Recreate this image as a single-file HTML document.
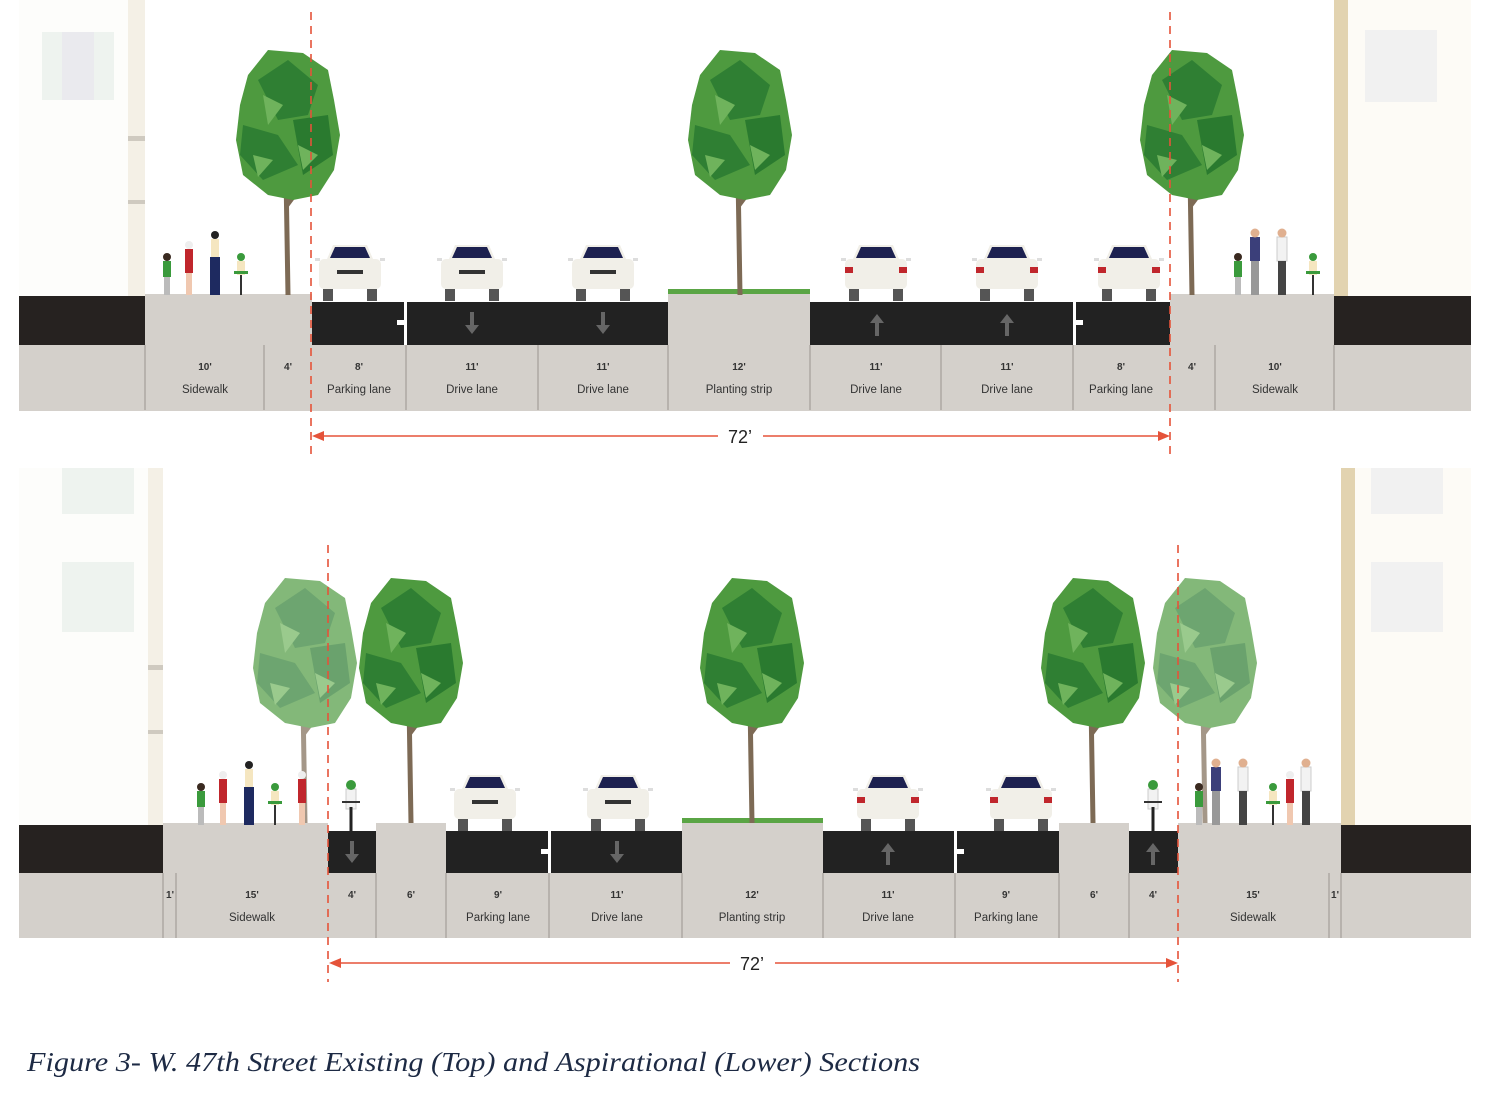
<!DOCTYPE html>
<html><head><meta charset="utf-8"><style>
html,body{margin:0;padding:0;background:#fff;}
svg{display:block}
.d{font:bold 10px "Liberation Sans",sans-serif;fill:#333;text-anchor:middle}
.n{font:11.5px "Liberation Sans",sans-serif;fill:#333;text-anchor:middle}
.dim{font:18px "Liberation Sans",sans-serif;fill:#222;text-anchor:middle}
.cap{font:italic 27px "Liberation Serif",serif;fill:#1d2a44}
</style></head><body>
<svg width="1485" height="1096" viewBox="0 0 1485 1096" xmlns="http://www.w3.org/2000/svg">
<defs>
<g id="tree">
  <path d="M0 0 L-2 -120 L-30 -150 M-1 -90 L25 -125 M-2 -120 L-4 -180" stroke="#7d6a55" stroke-width="5" fill="none"/>
  <polygon points="-40,-220 -20,-245 15,-242 40,-225 46,-195 52,-160 46,-125 30,-100 5,-95 -20,-100 -45,-120 -52,-155 -48,-190" fill="#4e9a3f"/>
  <polygon points="-30,-215 0,-235 30,-210 20,-180 -10,-175" fill="#2f7f33"/>
  <polygon points="-45,-170 -10,-160 10,-130 -25,-115 -48,-140" fill="#2f7f33"/>
  <polygon points="5,-175 40,-180 45,-140 15,-120" fill="#2a7a2f"/>
  <polygon points="-25,-200 -5,-190 -20,-170" fill="#6fb35c"/>
  <polygon points="10,-150 30,-140 15,-125" fill="#6fb35c"/>
  <polygon points="-35,-140 -15,-135 -30,-118" fill="#6fb35c"/>
</g>
<g id="carF">
  <rect x="4" y="16" width="62" height="30" rx="5" fill="#f1efe8"/>
  <polygon points="12,16 18,2 52,2 58,16" fill="#f1efe8"/>
  <polygon points="15,15 20,4 50,4 55,15" fill="#1d2150"/>
  <rect x="0" y="15" width="5" height="3" fill="#ddd"/><rect x="65" y="15" width="5" height="3" fill="#ddd"/>
  <rect x="22" y="27" width="26" height="4" fill="#333"/>
  <rect x="8" y="46" width="10" height="12" fill="#555"/><rect x="52" y="46" width="10" height="12" fill="#555"/>
</g>
<g id="carR">
  <rect x="4" y="16" width="62" height="30" rx="5" fill="#f1efe8"/>
  <polygon points="12,16 18,2 52,2 58,16" fill="#f1efe8"/>
  <polygon points="15,15 20,4 50,4 55,15" fill="#1d2150"/>
  <rect x="0" y="15" width="5" height="3" fill="#ddd"/><rect x="65" y="15" width="5" height="3" fill="#ddd"/>
  <rect x="4" y="24" width="8" height="6" fill="#c0262c"/><rect x="58" y="24" width="8" height="6" fill="#c0262c"/>
  <rect x="8" y="46" width="10" height="12" fill="#555"/><rect x="52" y="46" width="10" height="12" fill="#555"/>
</g>
<g id="arU"><rect x="-2" y="-4" width="4" height="14" fill="#666"/><polygon points="-7,-3 7,-3 0,-12" fill="#666"/></g>
<g id="arD"><rect x="-2" y="-10" width="4" height="14" fill="#666"/><polygon points="-7,3 7,3 0,12" fill="#666"/></g>
<g id="pr"><rect x="-4" y="-46" width="8" height="24" fill="#c0262c"/><circle cx="0" cy="-50" r="4" fill="#eee"/><rect x="-3" y="-22" width="6" height="22" fill="#f0c8b0"/></g>
<g id="pb"><rect x="-4" y="-56" width="8" height="18" fill="#f5e6c0"/><rect x="-5" y="-38" width="10" height="38" fill="#1e2a60"/><circle cx="0" cy="-60" r="4" fill="#222"/></g>
<g id="pg"><rect x="-4" y="-34" width="8" height="16" fill="#3a9a3c"/><circle cx="0" cy="-38" r="4" fill="#3a2a20"/><rect x="-3" y="-18" width="6" height="18" fill="#bbb"/></g>
<g id="pm"><rect x="-5" y="-58" width="10" height="24" fill="#3b3f7a"/><circle cx="0" cy="-62" r="4.5" fill="#e0b090"/><rect x="-4" y="-34" width="8" height="34" fill="#999"/></g>
<g id="pw"><rect x="-5" y="-58" width="10" height="24" fill="#f2f2f2" stroke="#ccc"/><circle cx="0" cy="-62" r="4.5" fill="#e0b090"/><rect x="-4" y="-34" width="8" height="34" fill="#444"/></g>
<g id="pk"><rect x="-4" y="-34" width="8" height="14" fill="#f5e6c0"/><circle cx="0" cy="-38" r="4" fill="#3a9a3c"/><rect x="-1" y="-20" width="2" height="20" fill="#333"/><rect x="-7" y="-24" width="14" height="3" fill="#3a9a3c"/></g>
<g id="bk"><rect x="-5" y="-42" width="10" height="20" fill="#f2f2f2" stroke="#ccc"/><circle cx="0" cy="-46" r="5" fill="#3a9a3c"/><rect x="-1.5" y="-24" width="3" height="24" fill="#222"/><rect x="-9" y="-30" width="18" height="2" fill="#333"/></g>
</defs>

<rect x="19" y="0" width="126" height="296" fill="#fdfdfb"/>
<rect x="128" y="0" width="17" height="296" fill="#f4f0e6"/>
<rect x="128" y="136" width="17" height="5" fill="#cfcac0"/><rect x="128" y="200" width="17" height="4" fill="#cfcac0"/>
<rect x="42" y="32" width="72" height="68" fill="#eef3ef"/><rect x="62" y="32" width="32" height="68" fill="#eaeaee"/>
<rect x="1334" y="0" width="137" height="296" fill="#fdfbf6"/>
<rect x="1334" y="0" width="14" height="296" fill="#e2d3b0"/>
<rect x="1365" y="30" width="72" height="72" fill="#f1f1f1"/>
<rect x="19" y="345" width="1452" height="66" fill="#d4d0cb"/>
<rect x="19" y="296" width="126" height="49" fill="#262220"/>
<rect x="1334" y="296" width="137" height="49" fill="#262220"/>
<rect x="145" y="294" width="167" height="51" fill="#d4d0cb"/>
<rect x="1170" y="294" width="164" height="51" fill="#d4d0cb"/>
<rect x="668" y="293" width="142" height="52" fill="#d4d0cb"/>
<rect x="668" y="289" width="142" height="5" fill="#5aa545"/>
<rect x="312" y="302" width="356" height="43" fill="#222"/>
<rect x="810" y="302" width="360" height="43" fill="#222"/>
<rect x="404" y="302" width="3" height="43" fill="#fff"/><rect x="397" y="320" width="8" height="5" fill="#fff"/>
<rect x="1073" y="302" width="3" height="43" fill="#fff"/><rect x="1075" y="320" width="8" height="5" fill="#fff"/>
<use href="#arD" x="472" y="322"/><use href="#arD" x="603" y="322"/>
<use href="#arU" x="877" y="326"/><use href="#arU" x="1007" y="326"/>
<g stroke="#9a958f" stroke-width="1">
<line x1="145" y1="345" x2="145" y2="410"/><line x1="264" y1="345" x2="264" y2="410"/><line x1="406" y1="345" x2="406" y2="410"/>
<line x1="538" y1="345" x2="538" y2="410"/><line x1="668" y1="345" x2="668" y2="410"/><line x1="810" y1="345" x2="810" y2="410"/>
<line x1="941" y1="345" x2="941" y2="410"/><line x1="1073" y1="345" x2="1073" y2="410"/><line x1="1215" y1="345" x2="1215" y2="410"/>
<line x1="1334" y1="345" x2="1334" y2="410"/></g>
<text class="d" x="205" y="370">10'</text><text class="n" x="205" y="393">Sidewalk</text>
<text class="d" x="288" y="370">4'</text>
<text class="d" x="359" y="370">8'</text><text class="n" x="359" y="393">Parking lane</text>
<text class="d" x="472" y="370">11'</text><text class="n" x="472" y="393">Drive lane</text>
<text class="d" x="603" y="370">11'</text><text class="n" x="603" y="393">Drive lane</text>
<text class="d" x="739" y="370">12'</text><text class="n" x="739" y="393">Planting strip</text>
<text class="d" x="876" y="370">11'</text><text class="n" x="876" y="393">Drive lane</text>
<text class="d" x="1007" y="370">11'</text><text class="n" x="1007" y="393">Drive lane</text>
<text class="d" x="1121" y="370">8'</text><text class="n" x="1121" y="393">Parking lane</text>
<text class="d" x="1192" y="370">4'</text>
<text class="d" x="1275" y="370">10'</text><text class="n" x="1275" y="393">Sidewalk</text>
<use href="#tree" x="288" y="295"/><use href="#tree" x="740" y="295"/><use href="#tree" x="1192" y="295"/>
<use href="#carF" x="315" y="243"/><use href="#carF" x="437" y="243"/><use href="#carF" x="568" y="243"/>
<use href="#carR" x="841" y="243"/><use href="#carR" x="972" y="243"/><use href="#carR" x="1094" y="243"/>
<use href="#pg" x="167" y="295"/><use href="#pr" x="189" y="295"/><use href="#pb" x="215" y="295"/><use href="#pk" x="241" y="295"/>
<use href="#pg" x="1238" y="295"/><use href="#pm" x="1255" y="295"/><use href="#pw" x="1282" y="295"/><use href="#pk" x="1313" y="295"/>
<g stroke="#e5533a" stroke-width="1.6" stroke-dasharray="8,6"><line x1="311" y1="12" x2="311" y2="455"/><line x1="1170" y1="12" x2="1170" y2="455"/></g>
<g stroke="#e5533a" stroke-width="1.6"><line x1="316" y1="436" x2="718" y2="436"/><line x1="763" y1="436" x2="1165" y2="436"/></g>
<polygon points="312,436 324,431 324,441" fill="#e5533a"/><polygon points="1170,436 1158,431 1158,441" fill="#e5533a"/>
<text class="dim" x="740" y="443">72’</text>

<rect x="19" y="468" width="144" height="357" fill="#fdfdfb"/>
<rect x="148" y="468" width="15" height="357" fill="#f4f0e6"/>
<rect x="148" y="665" width="15" height="5" fill="#cfcac0"/><rect x="148" y="730" width="15" height="4" fill="#cfcac0"/>
<rect x="62" y="468" width="72" height="46" fill="#eef3ef"/><rect x="62" y="562" width="72" height="70" fill="#eef3ef"/>
<rect x="1341" y="468" width="130" height="357" fill="#fdfbf6"/>
<rect x="1341" y="468" width="14" height="357" fill="#e2d3b0"/>
<rect x="1371" y="468" width="72" height="46" fill="#f1f1f1"/><rect x="1371" y="562" width="72" height="70" fill="#f1f1f1"/>
<rect x="19" y="873" width="1452" height="65" fill="#d4d0cb"/>
<rect x="19" y="825" width="144" height="48" fill="#262220"/>
<rect x="1341" y="825" width="130" height="48" fill="#262220"/>
<rect x="163" y="823" width="165" height="50" fill="#d4d0cb"/>
<rect x="376" y="823" width="70" height="50" fill="#d4d0cb"/>
<rect x="682" y="823" width="141" height="50" fill="#d4d0cb"/>
<rect x="682" y="818" width="141" height="5" fill="#5aa545"/>
<rect x="1059" y="823" width="70" height="50" fill="#d4d0cb"/>
<rect x="1178" y="823" width="163" height="50" fill="#d4d0cb"/>
<rect x="328" y="831" width="48" height="42" fill="#222"/>
<rect x="446" y="831" width="236" height="42" fill="#222"/>
<rect x="823" y="831" width="236" height="42" fill="#222"/>
<rect x="1129" y="831" width="49" height="42" fill="#222"/>
<rect x="548" y="831" width="3" height="42" fill="#fff"/><rect x="541" y="849" width="8" height="5" fill="#fff"/>
<rect x="954" y="831" width="3" height="42" fill="#fff"/><rect x="956" y="849" width="8" height="5" fill="#fff"/>
<use href="#arD" x="352" y="851"/><use href="#arD" x="617" y="851"/>
<use href="#arU" x="888" y="855"/><use href="#arU" x="1153" y="855"/>
<g stroke="#9a958f" stroke-width="1">
<line x1="163" y1="873" x2="163" y2="938"/><line x1="176" y1="873" x2="176" y2="938"/><line x1="376" y1="873" x2="376" y2="938"/>
<line x1="446" y1="873" x2="446" y2="938"/><line x1="549" y1="873" x2="549" y2="938"/><line x1="682" y1="873" x2="682" y2="938"/>
<line x1="823" y1="873" x2="823" y2="938"/><line x1="955" y1="873" x2="955" y2="938"/><line x1="1059" y1="873" x2="1059" y2="938"/>
<line x1="1129" y1="873" x2="1129" y2="938"/><line x1="1329" y1="873" x2="1329" y2="938"/><line x1="1341" y1="873" x2="1341" y2="938"/></g>
<text class="d" x="170" y="898">1'</text>
<text class="d" x="252" y="898">15'</text><text class="n" x="252" y="921">Sidewalk</text>
<text class="d" x="352" y="898">4'</text><text class="d" x="411" y="898">6'</text>
<text class="d" x="498" y="898">9'</text><text class="n" x="498" y="921">Parking lane</text>
<text class="d" x="617" y="898">11'</text><text class="n" x="617" y="921">Drive lane</text>
<text class="d" x="752" y="898">12'</text><text class="n" x="752" y="921">Planting strip</text>
<text class="d" x="888" y="898">11'</text><text class="n" x="888" y="921">Drive lane</text>
<text class="d" x="1006" y="898">9'</text><text class="n" x="1006" y="921">Parking lane</text>
<text class="d" x="1094" y="898">6'</text><text class="d" x="1153" y="898">4'</text>
<text class="d" x="1253" y="898">15'</text><text class="n" x="1253" y="921">Sidewalk</text>
<text class="d" x="1335" y="898">1'</text>
<g opacity="0.7"><use href="#tree" x="305" y="823"/><use href="#tree" x="1205" y="823"/></g>
<use href="#tree" x="411" y="823"/><use href="#tree" x="752" y="823"/><use href="#tree" x="1093" y="823"/>
<use href="#carF" x="450" y="773"/><use href="#carF" x="583" y="773"/>
<use href="#carR" x="853" y="773"/><use href="#carR" x="986" y="773"/>
<use href="#bk" x="351" y="831"/><use href="#bk" x="1153" y="831"/>
<use href="#pg" x="201" y="825"/><use href="#pr" x="223" y="825"/><use href="#pb" x="249" y="825"/><use href="#pk" x="275" y="825"/><use href="#pr" x="302" y="825"/>
<use href="#pg" x="1199" y="825"/><use href="#pm" x="1216" y="825"/><use href="#pw" x="1243" y="825"/><use href="#pk" x="1273" y="825"/><use href="#pr" x="1290" y="825"/><use href="#pw" x="1306" y="825"/>
<g stroke="#e5533a" stroke-width="1.6" stroke-dasharray="8,6"><line x1="328" y1="545" x2="328" y2="982"/><line x1="1178" y1="545" x2="1178" y2="982"/></g>
<g stroke="#e5533a" stroke-width="1.6"><line x1="333" y1="963" x2="730" y2="963"/><line x1="775" y1="963" x2="1173" y2="963"/></g>
<polygon points="329,963 341,958 341,968" fill="#e5533a"/><polygon points="1178,963 1166,958 1166,968" fill="#e5533a"/>
<text class="dim" x="752" y="970">72’</text>

<text class="cap" x="27" y="1071" textLength="893" lengthAdjust="spacingAndGlyphs">Figure 3- W. 47th Street Existing (Top) and Aspirational (Lower) Sections</text>
</svg>
</body></html>
